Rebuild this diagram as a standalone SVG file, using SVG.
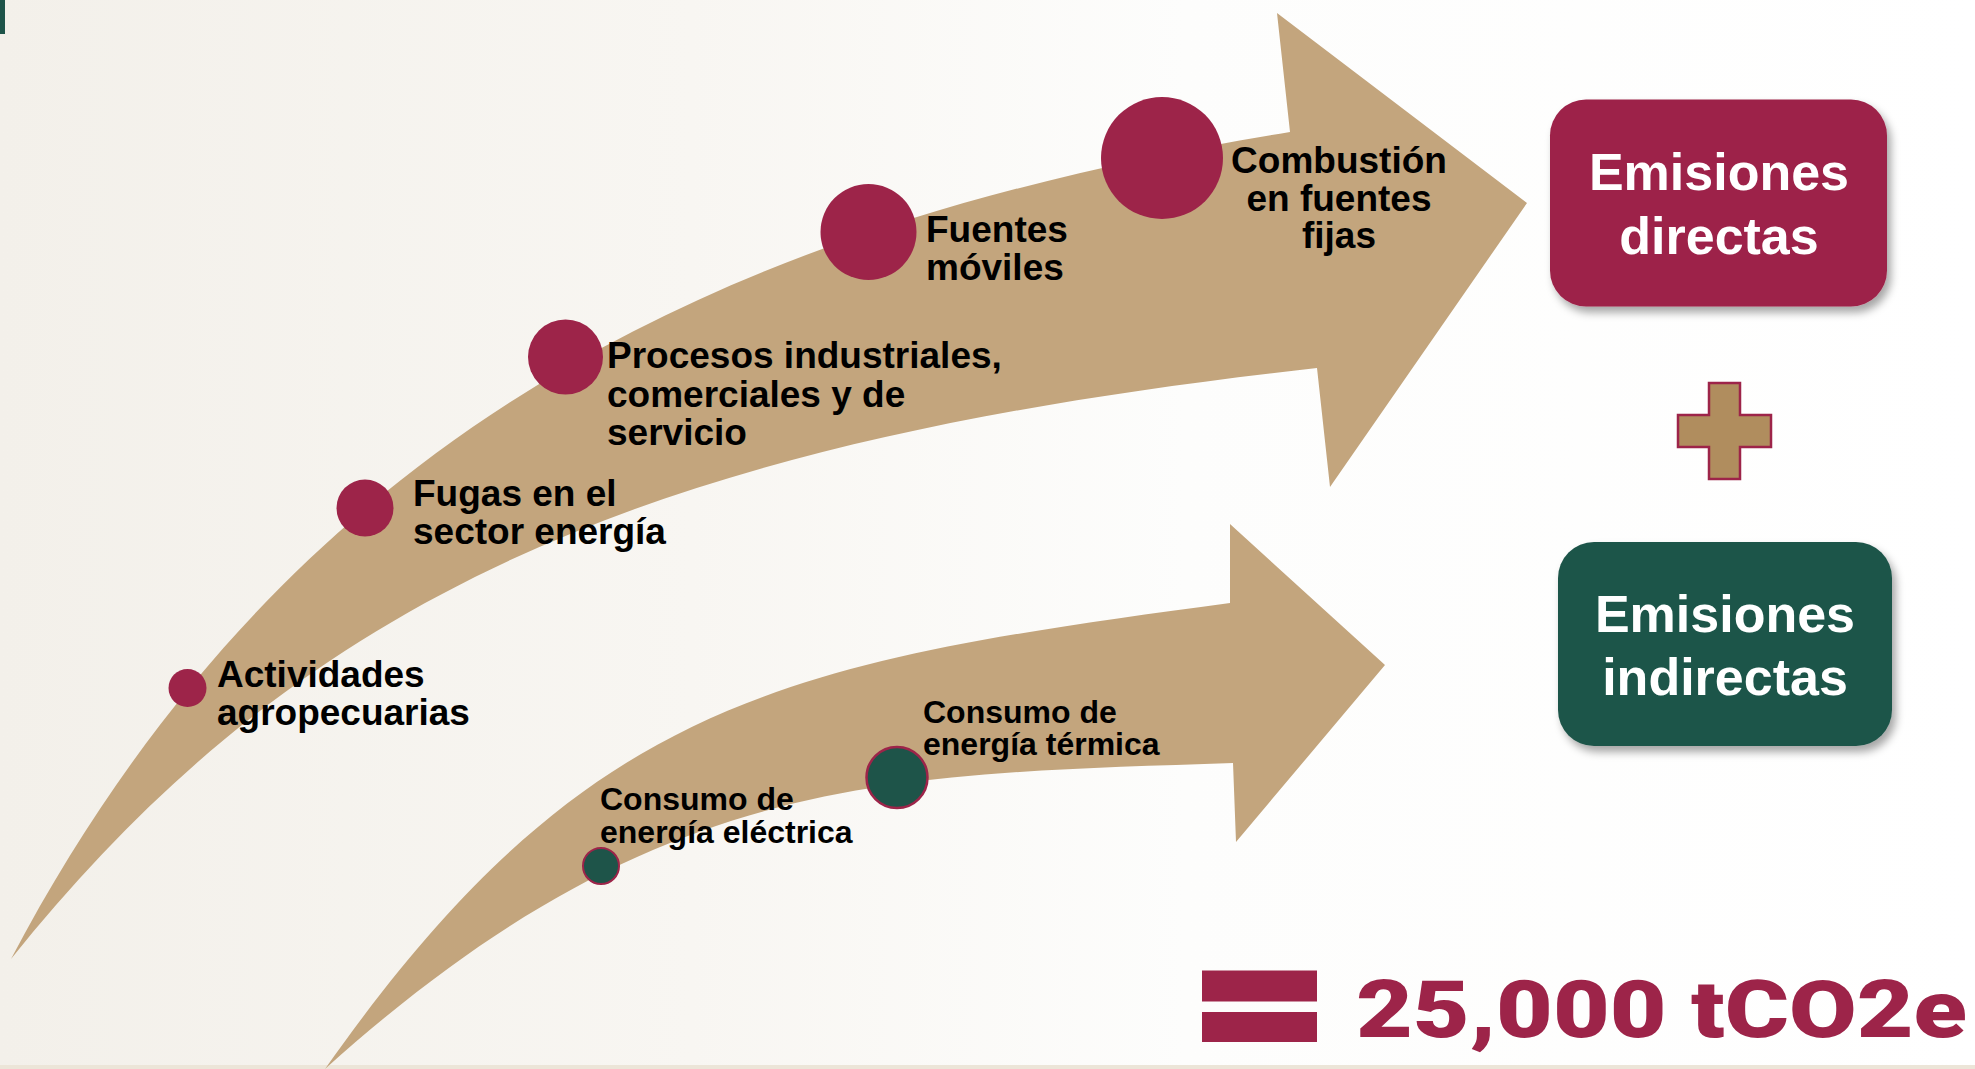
<svg xmlns="http://www.w3.org/2000/svg" width="1975" height="1069" viewBox="0 0 1975 1069">
<style>
.lbl{font-family:"Liberation Sans",Arial,sans-serif;font-weight:bold;font-size:37px;fill:#000}
.sm{font-family:"Liberation Sans",Arial,sans-serif;font-weight:bold;font-size:32px;fill:#000}
.box{font-family:"Liberation Sans",Arial,sans-serif;font-weight:bold;font-size:52px;fill:#fff;text-anchor:middle}
.dot{fill:#9d2449}
.gdot{fill:#1e5449;stroke:#9d2449}
.arrow{fill:#c3a57d}
</style>
<defs>
<linearGradient id="bg" x1="0" y1="0" x2="1" y2="0">
<stop offset="0" stop-color="#f3f0ea"/>
<stop offset="0.35" stop-color="#f8f6f2"/>
<stop offset="0.6" stop-color="#fdfdfc"/>
<stop offset="1" stop-color="#ffffff"/>
</linearGradient>
<filter id="sh" x="-10%" y="-10%" width="130%" height="130%">
<feDropShadow dx="4" dy="6" stdDeviation="4" flood-color="#000" flood-opacity="0.35"/>
</filter>
</defs>
<rect x="0" y="0" width="1975" height="1069" fill="url(#bg)"/>
<rect x="0" y="1065" width="1975" height="4" fill="#ece5d8"/>
<rect x="0" y="0" width="5" height="34" fill="#1e5449"/>

<g id="connectors">
<path id="arrow-directas" class="arrow" d="M11,959 C311,389 790,214 1290,132 L1277,13 L1527,203 L1330,487 L1317,368 C667,440 311,584 11,959 Z"/>
<path id="arrow-indirectas" class="arrow" d="M325,1069 C585,700 780,663 1230,603 L1230,524 L1385,665 L1236,842 L1233,763 C883,775 655,772 325,1069 Z"/>
</g>

<g id="node-actividades">
<circle class="dot" cx="187.5" cy="688" r="19"/>
<text class="lbl" x="217" y="687">Actividades</text>
<text class="lbl" x="217" y="725">agropecuarias</text>
</g>
<g id="node-fugas">
<circle class="dot" cx="365" cy="508" r="28.5"/>
<text class="lbl" x="413" y="506">Fugas en el</text>
<text class="lbl" x="413" y="544">sector energía</text>
</g>
<g id="node-procesos">
<circle class="dot" cx="565.5" cy="357" r="37.5"/>
<text class="lbl" x="607" y="368">Procesos industriales,</text>
<text class="lbl" x="607" y="406.5">comerciales y de</text>
<text class="lbl" x="607" y="445">servicio</text>
</g>
<g id="node-moviles">
<circle class="dot" cx="868.5" cy="232" r="48"/>
<text class="lbl" x="926" y="242">Fuentes</text>
<text class="lbl" x="926" y="280">móviles</text>
</g>
<g id="node-combustion">
<circle class="dot" cx="1162" cy="158" r="61"/>
<text class="lbl" x="1339" y="173" text-anchor="middle">Combustión</text>
<text class="lbl" x="1339" y="210.5" text-anchor="middle">en fuentes</text>
<text class="lbl" x="1339" y="247.5" text-anchor="middle">fijas</text>
</g>
<g id="node-electrica">
<circle class="gdot" cx="601" cy="866" r="18" stroke-width="2"/>
<text class="sm" x="600" y="810">Consumo de</text>
<text class="sm" x="600" y="843">energía eléctrica</text>
</g>
<g id="node-termica">
<circle class="gdot" cx="897" cy="777.5" r="30.5" stroke-width="2.5"/>
<text class="sm" x="923" y="722.5">Consumo de</text>
<text class="sm" x="923" y="755">energía térmica</text>
</g>

<g id="box-directas">
<rect x="1550" y="99.5" width="337" height="207" rx="36" fill="#9d2449" filter="url(#sh)"/>
<text class="box" x="1719" y="190">Emisiones</text>
<text class="box" x="1719" y="254">directas</text>
</g>
<g id="plus">
<polygon points="1709,383 1740,383 1740,415 1771,415 1771,447 1740,447 1740,479 1709,479 1709,447 1678,447 1678,415 1709,415" fill="#b08d5e" stroke="#9d2449" stroke-width="2.5"/>
</g>
<g id="box-indirectas">
<rect x="1558" y="542" width="334" height="204" rx="36" fill="#1e5449" filter="url(#sh)"/>
<text class="box" x="1725" y="632">Emisiones</text>
<text class="box" x="1725" y="695">indirectas</text>
</g>
<g id="total">
<rect x="1202" y="970.5" width="115" height="31" fill="#9d2449"/>
<rect x="1202" y="1012" width="115" height="30" fill="#9d2449"/>
<text x="1356" y="1036.5" font-family="Roboto, Inter, Lato, 'Liberation Sans', sans-serif" font-weight="900" font-size="79" fill="#9d2449" textLength="611" lengthAdjust="spacingAndGlyphs">25,000 tCO2e</text>
</g>
</svg>
